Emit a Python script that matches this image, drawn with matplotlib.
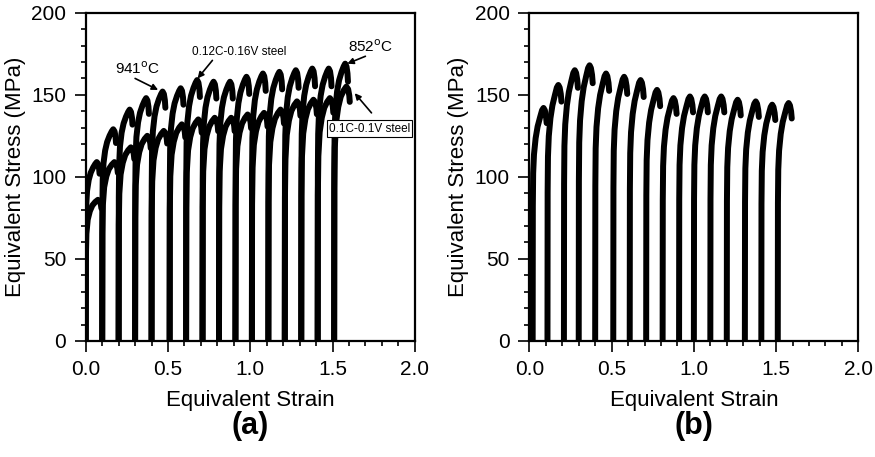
import numpy as np
import matplotlib.pyplot as plt
from matplotlib.ticker import MultipleLocator

plt.rcParams['font.family'] = ['Liberation Sans', 'DejaVu Sans']

# pass start strains and peak stresses (MPa)
starts_a = [0.0, 0.10, 0.20, 0.30, 0.40, 0.51, 0.61, 0.71, 0.81, 0.91, 1.01, 1.11, 1.21, 1.31, 1.41, 1.51]
peaks_hi = [109, 129, 141, 148, 152, 154, 159, 158, 158, 161, 163, 164, 165, 166, 166, 169]   # 0.12C-0.16V
peaks_lo = [86, 109, 118, 125, 128, 132, 135, 136, 136, 138, 139, 141, 146, 147, 148, 155]    # 0.1C-0.1V

starts_b = [0.02, 0.11, 0.21, 0.30, 0.40, 0.51, 0.61, 0.71, 0.81, 0.91, 1.00, 1.10, 1.20, 1.31, 1.41, 1.51]
peaks_b = [142, 156, 165, 168, 163, 161, 159, 153, 148, 149, 149, 149, 147, 146, 144, 145]

# shape of one pass (strain after pass start, fraction of peak stress)
shape_hi_x = [0.0, 0.001, 0.003, 0.008, 0.018, 0.03, 0.045, 0.058, 0.067, 0.075, 0.081, 0.084]
shape_hi_y = [0.0, 0.62, 0.76, 0.84, 0.90, 0.94, 0.97, 0.99, 1.0, 0.99, 0.965, 0.935]
shape_lo_x = [0.0, 0.001, 0.004, 0.012, 0.025, 0.04, 0.058, 0.074, 0.085, 0.092, 0.095]
shape_lo_y = [0.0, 0.60, 0.76, 0.86, 0.92, 0.96, 0.985, 1.0, 0.99, 0.965, 0.94]
shape_b_x = [0.0, 0.001, 0.003, 0.008, 0.018, 0.03, 0.045, 0.057, 0.066, 0.074, 0.081, 0.085]
shape_b_y = [0.0, 0.58, 0.72, 0.80, 0.87, 0.92, 0.96, 0.99, 1.0, 0.99, 0.965, 0.935]


def draw_passes(ax, starts, peaks, sx, sy):
    for s, p in zip(starts, peaks):
        ax.plot(s + np.array(sx), p * np.array(sy), color='k', lw=4.3,
                solid_capstyle='round', solid_joinstyle='round')


def style(ax):
    ax.set_xlim(0, 2.0)
    ax.set_ylim(0, 200)
    ax.xaxis.set_major_locator(MultipleLocator(0.5))
    ax.xaxis.set_minor_locator(MultipleLocator(0.1))
    ax.yaxis.set_major_locator(MultipleLocator(50))
    ax.yaxis.set_minor_locator(MultipleLocator(10))
    ax.set_xticklabels(['%.1f' % v for v in ax.get_xticks()])
    ax.tick_params(which='major', direction='out', length=8, width=1.2, labelsize=15, pad=6)
    ax.tick_params(which='minor', direction='out', length=3.5, width=1.2)
    for sp in ax.spines.values():
        sp.set_linewidth(1.6)
    ax.set_xlabel('Equivalent Strain', fontsize=16, labelpad=8)
    ax.set_ylabel('Equivalent Stress (MPa)', fontsize=16, labelpad=4)


fig = plt.figure(figsize=(8.75, 4.57), dpi=100)
ax1 = fig.add_axes([0.098, 0.254, 0.376, 0.718])
ax2 = fig.add_axes([0.605, 0.254, 0.376, 0.718])

draw_passes(ax1, starts_a, peaks_hi, shape_hi_x, shape_hi_y)
draw_passes(ax1, starts_a, peaks_lo, shape_lo_x, shape_lo_y)
draw_passes(ax2, starts_b, peaks_b, shape_b_x, shape_b_y)
style(ax1)
style(ax2)

# labels and their arrows (arrow tail, arrow head)
arrow = dict(arrowstyle='-|>', color='k', lw=1.2, mutation_scale=9, shrinkA=0, shrinkB=0)
ax1.text(0.316, 166, '941$^\\mathrm{o}$C', fontsize=11, ha='center', va='center')
ax1.annotate('', xy=(0.44, 153), xytext=(0.30, 160), arrowprops=arrow)
ax1.text(0.93, 176, '0.12C-0.16V steel', fontsize=8.5, ha='center', va='center')
ax1.annotate('', xy=(0.68, 160), xytext=(0.77, 171), arrowprops=arrow)
ax1.text(1.73, 179.5, '852$^\\mathrm{o}$C', fontsize=11, ha='center', va='center')
ax1.annotate('', xy=(1.59, 169), xytext=(1.70, 173.5), arrowprops=arrow)
ax1.text(1.725, 129.3, '0.1C-0.1V steel', fontsize=8.5, ha='center', va='center',
         bbox=dict(boxstyle='square,pad=0.2', fc='white', ec='k', lw=0.8))
ax1.annotate('', xy=(1.635, 151), xytext=(1.737, 139), arrowprops=arrow)

fig.text(0.286, 0.067, '(a)', fontsize=22, fontweight='bold', ha='center', va='center')
fig.text(0.793, 0.067, '(b)', fontsize=22, fontweight='bold', ha='center', va='center')

fig.savefig('out.png', dpi=100)
